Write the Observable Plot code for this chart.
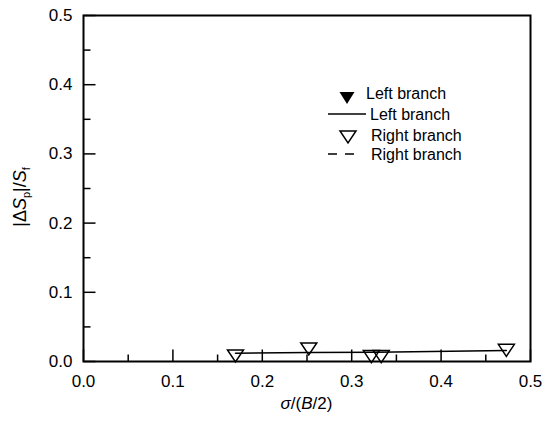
<!DOCTYPE html>
<html><head><meta charset="utf-8">
<script src="https://cdn.jsdelivr.net/npm/d3@7"></script>
<script src="https://cdn.jsdelivr.net/npm/@observablehq/plot@0.6"></script>
<style>body{margin:0;background:#fff} svg{display:block}</style>
</head><body><div id="chart"></div>
<script>
// Right branch (open triangles)
const rightX = [0.170, 0.252, 0.322, 0.333, 0.473];
const rightY = [0.011, 0.021, 0.010, 0.010, 0.019];
// Left branch line (solid)
const leftLineX = [0.170, 0.252, 0.327, 0.473];
const leftLineY = [0.012, 0.013, 0.0135, 0.016];
// ticks
const xMajor = [0, 0.1, 0.2, 0.3, 0.4, 0.5];
const xMinor = [0.05, 0.15, 0.25, 0.35, 0.45];
const yMajor = [0, 0.1, 0.2, 0.3, 0.4, 0.5];
const yMinor = [0.05, 0.15, 0.25, 0.35, 0.45];
const legendLabels = ["Left branch", "Left branch", "Right branch", "Right branch"];

const FONT = "Liberation Sans, Arial, sans-serif";
const downTri = {draw(ctx) { ctx.moveTo(-8, -4); ctx.lineTo(8, -4); ctx.lineTo(0, 8); ctx.closePath(); }};
const tickUp = L => ({draw(ctx) { ctx.moveTo(0, 0); ctx.lineTo(0, -L); }});
const tickRight = L => ({draw(ctx) { ctx.moveTo(0, 0); ctx.lineTo(L, 0); }});

const pts = rightX.map((x, i) => ({x, y: rightY[i]}));
const line = leftLineX.map((x, i) => ({x, y: leftLineY[i]}));

const chart = Plot.plot({
  width: 546, height: 423,
  marginLeft: 83, marginRight: 16, marginTop: 15, marginBottom: 62,
  style: {fontFamily: FONT, fontSize: "17px", color: "black", background: "white"},
  x: {domain: [0, 0.5], axis: null},
  y: {domain: [0, 0.5], axis: null},
  marks: [
    Plot.axisX(xMajor, {anchor: "bottom", tickSize: 0, tickPadding: 13, fontSize: 17, tickFormat: d3.format(".1f"), label: null}),
    Plot.axisY(yMajor, {anchor: "left", tickSize: 0, tickPadding: 11, fontSize: 17, tickFormat: d3.format(".1f"), label: null}),
    Plot.dot(xMajor, {x: d => d, y: 0, symbol: tickUp(12), fill: "none", stroke: "black", strokeWidth: 1.5}),
    Plot.dot(xMinor, {x: d => d, y: 0, symbol: tickUp(7), fill: "none", stroke: "black", strokeWidth: 1.5}),
    Plot.dot(yMajor, {x: 0, y: d => d, symbol: tickRight(12), fill: "none", stroke: "black", strokeWidth: 1.5}),
    Plot.dot(yMinor, {x: 0, y: d => d, symbol: tickRight(7), fill: "none", stroke: "black", strokeWidth: 1.5}),
    Plot.line(line, {x: "x", y: "y", stroke: "black", strokeWidth: 1.5}),
    Plot.dot(pts, {x: "x", y: "y", symbol: downTri, fill: "none", stroke: "black", strokeWidth: 1.5}),
    Plot.frame({stroke: "black", strokeWidth: 2})
  ]
});
document.getElementById("chart").appendChild(chart);

const svg = d3.select(chart);
// axis titles
const xt = svg.append("text").attr("x", 306.5).attr("y", 409).attr("text-anchor", "middle")
  .attr("font-family", FONT).attr("font-size", 17).attr("fill", "black");
xt.append("tspan").attr("font-style", "italic").text("σ");
xt.append("tspan").text("/(");
xt.append("tspan").attr("font-style", "italic").text("B");
xt.append("tspan").text("/2)");

const yt = svg.append("text").attr("transform", "translate(26,197) rotate(-90)").attr("text-anchor", "middle")
  .attr("font-family", FONT).attr("font-size", 18).attr("fill", "black");
yt.append("tspan").text("|Δ");
yt.append("tspan").attr("font-style", "italic").text("S");
yt.append("tspan").attr("font-size", 11).attr("dy", 4).text("p");
yt.append("tspan").attr("dy", -4).text("|/");
yt.append("tspan").attr("font-style", "italic").text("S");
yt.append("tspan").attr("font-size", 11).attr("dy", 4).text("f");

// legend
const lg = svg.append("g").attr("font-family", FONT).attr("font-size", 16).attr("fill", "black").attr("text-anchor", "start");
lg.append("path").attr("d", "M339.5,92 L354.5,92 L347,104 Z").attr("fill", "black");
lg.append("text").attr("x", 366).attr("y", 99).text(legendLabels[0]);
lg.append("line").attr("x1", 328).attr("x2", 366).attr("y1", 114).attr("y2", 114).attr("stroke", "black").attr("stroke-width", 1.5);
lg.append("text").attr("x", 370).attr("y", 120).text(legendLabels[1]);
lg.append("path").attr("d", "M340,131 L356,131 L348,143 Z").attr("fill", "none").attr("stroke", "black").attr("stroke-width", 1.5);
lg.append("text").attr("x", 371).attr("y", 141).text(legendLabels[2]);
lg.append("line").attr("x1", 328).attr("x2", 359).attr("y1", 154).attr("y2", 154).attr("stroke", "black").attr("stroke-width", 1.5).attr("stroke-dasharray", "9,8");
lg.append("text").attr("x", 371).attr("y", 160).text(legendLabels[3]);
</script>
</body></html>
